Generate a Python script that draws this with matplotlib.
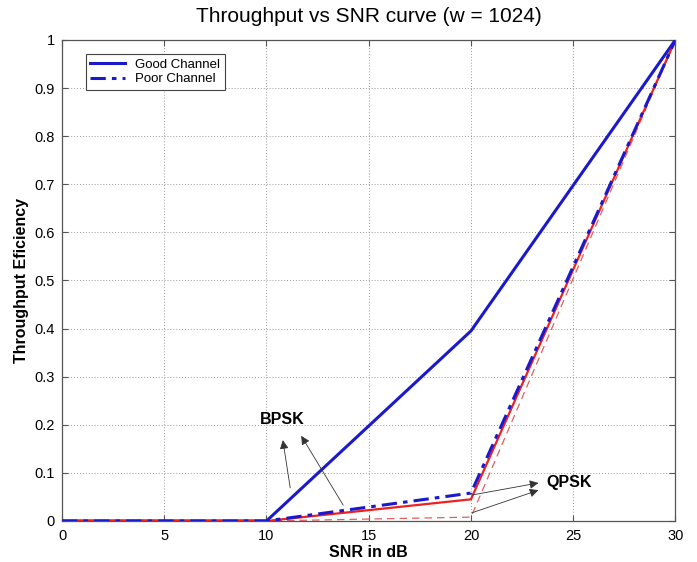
import matplotlib
matplotlib.use("Agg")
import matplotlib.pyplot as plt

plt.rcParams['font.family'] = ['Liberation Sans', 'DejaVu Sans']

snr = [0, 10, 20, 30]
good_channel = [0.0, 0.0, 0.395, 1.0]
poor_channel = [0.0, 0.0, 0.058, 1.0]
qpsk_red = [0.0, 0.0, 0.045, 1.0]
qpsk_thin = [0.0, 0.0, 0.008, 1.0]

xticks = [0, 5, 10, 15, 20, 25, 30]
yticks = [0, 0.1, 0.2, 0.3, 0.4, 0.5, 0.6, 0.7, 0.8, 0.9, 1]

fig = plt.figure(figsize=(6.97, 5.62), dpi=100)
ax = fig.add_axes([0.089, 0.073, 0.880, 0.856])

ax.plot(snr, qpsk_thin, color='#e06060', lw=0.9, ls=(0, (6, 4)), zorder=2)
ax.plot(snr, good_channel, color='#1a1acc', lw=2.2, label='Good Channel', zorder=3)
ax.plot(snr, poor_channel, color='#1a1acc', lw=2.2, ls=(0, (5, 2, 1.5, 2)), label='Poor Channel', zorder=4)
ax.plot(snr, qpsk_red, color='#ee2020', lw=1.6, zorder=3)

ax.set_xlim(0, 30)
ax.set_ylim(0, 1)
ax.set_xticks(xticks)
ax.set_yticks(yticks)
ax.set_yticklabels([('%g' % v) for v in yticks])
ax.tick_params(direction='in', top=True, right=True, labelsize=10.5, length=4, color='#555555')
ax.tick_params(axis='x', pad=6)
ax.tick_params(axis='y', pad=5)
ax.grid(True, ls=(0, (1, 2)), color='#999999', lw=0.7)
for s in ax.spines.values():
    s.set_color('#555555')
    s.set_linewidth(0.9)

ax.set_title('Throughput vs SNR curve (w = 1024)', fontsize=15, pad=13)
ax.set_xlabel('SNR in dB', fontsize=11.5, fontweight='bold', labelpad=1)
ax.set_ylabel('Throughput Eficiency', fontsize=11.5, fontweight='bold', labelpad=4)

leg = ax.legend(loc='upper left', bbox_to_anchor=(0.028, 0.985), fontsize=9.5,
                fancybox=False, framealpha=1, edgecolor='#444444',
                handlelength=2.6, borderpad=0.35, labelspacing=0.2)
leg.get_frame().set_linewidth(0.8)

arrow = dict(arrowstyle='-|>', color='#333333', lw=0.6, mutation_scale=13, shrinkA=0, shrinkB=0)
ax.text(9.7, 0.21, 'BPSK', fontsize=11.5, fontweight='bold', va='center', ha='left')
ax.annotate('', xy=(10.8, 0.168), xytext=(11.16, 0.069), arrowprops=arrow)
ax.annotate('', xy=(11.7, 0.177), xytext=(13.75, 0.033), arrowprops=arrow)
ax.text(23.7, 0.081, 'QPSK', fontsize=11.5, fontweight='bold', va='center', ha='left')
ax.annotate('', xy=(23.3, 0.079), xytext=(20.05, 0.054), arrowprops=arrow)
ax.annotate('', xy=(23.3, 0.064), xytext=(20.05, 0.017), arrowprops=arrow)

fig.savefig('out.png', dpi=100)
